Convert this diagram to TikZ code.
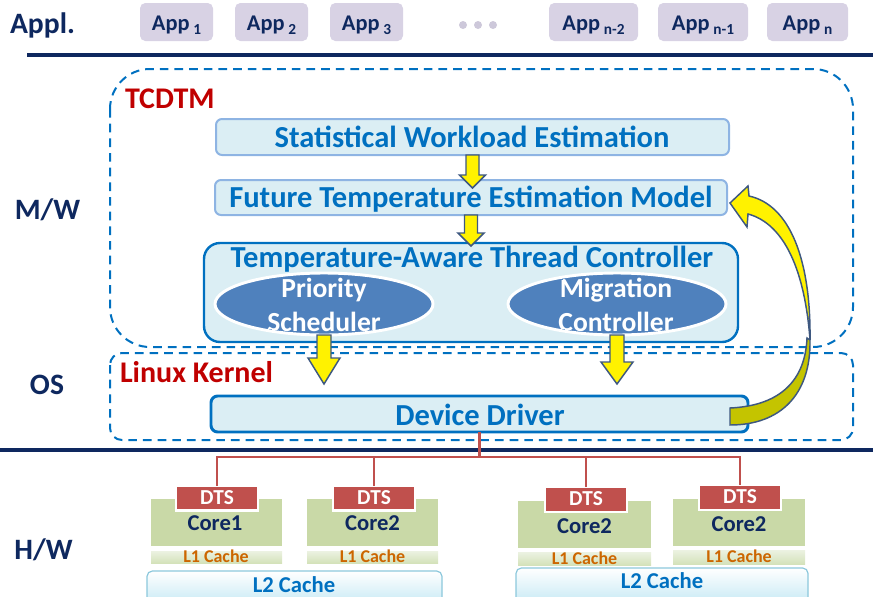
\documentclass[tikz,border=0pt]{standalone}
\usepackage{fontspec}
\setmainfont{Carlito}
\usetikzlibrary{calc,shapes.geometric}
\definecolor{navy}{RGB}{14,40,95}
\definecolor{dblue}{RGB}{0,112,192}
\definecolor{tblue}{RGB}{0,112,192}
\definecolor{lblue}{RGB}{219,238,244}
\definecolor{mblue}{RGB}{142,180,227}
\definecolor{kred}{RGB}{192,0,0}
\definecolor{ellc}{RGB}{79,129,189}
\definecolor{dtsc}{RGB}{192,80,77}
\definecolor{corec}{RGB}{201,217,167}
\definecolor{lonetop}{RGB}{236,242,226}
\definecolor{lonebot}{RGB}{212,226,186}
\definecolor{lonetext}{RGB}{204,102,0}
\definecolor{appc}{RGB}{216,210,228}
\definecolor{dotc}{RGB}{205,200,218}
\definecolor{arrb}{RGB}{62,88,128}
\definecolor{olive}{RGB}{196,196,0}
\definecolor{ltwob}{RGB}{140,200,220}
\definecolor{ltwof}{RGB}{195,232,244}
\newcommand\fsz[1]{\fontsize{#1}{#1}\selectfont}
\newcommand\subidx[1]{\,\raisebox{-0.4ex}{\fsz{11.5}#1}}
\newcommand\vblock[5]{\draw[yarrow] ($#1+(-#3,0)$) -- ($#2+(-#3,-#5)$) -- ($#2+(-#4,-#5)$) -- #2 -- ($#2+(#4,-#5)$) -- ($#2+(#3,-#5)$) -- ($#1+(#3,0)$) -- cycle;}
\begin{document}
\begin{tikzpicture}[x=0.75pt,y=-0.75pt,
  every node/.style={inner sep=0pt, outer sep=0pt},
  wh/.style 2 args={minimum width=#1*0.75pt, minimum height=#2*0.75pt},
  appbox/.style={fill=appc, rounded corners=4pt},
  apptext/.style={font=\bfseries\fsz{16.8}, text=navy, anchor=base},
  side/.style={font=\bfseries\fsz{22.2}, text=navy},
  sep/.style={draw=navy, line width=2.4pt},
  dashbox/.style={draw=dblue, line width=1.5pt, dash pattern=on 6.5pt off 4.5pt},
  redtitle/.style={font=\bfseries\fsz{22.5}, text=kred, anchor=base west},
  modbox/.style={fill=lblue, draw=mblue, line width=1.5pt, rounded corners=4.5pt},
  ctrlbox/.style={fill=lblue, draw=dblue, line width=1.8pt, rounded corners=12pt},
  ddbox/.style={fill=lblue, draw=dblue, line width=2.2pt, rounded corners=5pt},
  modtext/.style={font=\bfseries\fsz{22.9}, text=tblue, anchor=base},
  ell/.style={ellipse, fill=ellc, draw=white, line width=2.2pt},
  elltext/.style={font=\bfseries\fsz{20.7}, text=white, anchor=base},
  yarrow/.style={fill=yellow, draw=arrb, line width=1.1pt, line join=miter},
  oarrow/.style={fill=olive, draw=arrb, line width=1.1pt},
  wire/.style={draw=dtsc, line width=2pt},
  corebox/.style={fill=corec},
  coretext/.style={font=\bfseries\fsz{17}, text=navy, anchor=base},
  dtsbox/.style={fill=dtsc, draw=white, line width=1.6pt},
  dtstext/.style={font=\bfseries\fsz{16}, text=white, anchor=base},
  lonebox/.style={top color=lonetop, bottom color=lonebot},
  lonetxt/.style={font=\bfseries\fsz{13.5}, text=lonetext, anchor=base},
  ltwobox/.style={top color=white, bottom color=ltwof, draw=ltwob, line width=0.9pt, rounded corners=4pt},
  ltwotxt/.style={font=\bfseries\fsz{17}, text=tblue, anchor=base}
]
\useasboundingbox (0,0) rectangle (873,596);

% ---------- applications ----------
\node[side, anchor=base] (appl) at (42.5,33) {Appl.};
\foreach \n/\x/\w/\s in {1/176.5/73/1, 2/271.5/73/2, 3/366.5/73/3, 4/593.5/89/n-2, 5/703/90/n-1, 6/807.5/81/n}{
  \node[appbox, wh={\w}{38}] (app\n) at (\x,22) {};
  \node[apptext] (app\n t) at (\x,30) {App\subidx{\s}};
}
\foreach \x [count=\i] in {463,478,493}
  \node[circle, fill=dotc, minimum size=6pt] (dot\i) at (\x,25) {};

\draw[sep] (27,55) -- (873,55);
\draw[sep] (0,450) -- (873,450);

% ---------- side labels ----------
\node[side] (mw) at (47.5,210) {M/W};
\node[side] (os) at (47,385) {OS};
\node[side] (hw) at (43.5,550) {H/W};

% ---------- dashed layers ----------
\draw[dashbox, rounded corners=30pt] (110,69) rectangle (853,347);
\draw[dashbox, rounded corners=9pt] (110,353) rectangle (853,440);
\node[redtitle] (tcdtm) at (125,108) {TCDTM};
\node[redtitle] (lk) at (120,382) {Linux Kernel};

% ---------- middleware modules ----------
\node[modbox, wh={513}{36}] (swe) at (472.5,137) {};
\node[modtext] (swet) at (472,147) {Statistical Workload Estimation};
\node[modbox, wh={512}{35}] (fte) at (471,197.5) {};
\node[modtext] (ftet) at (471,207) {Future Temperature Estimation Model};
\node[ctrlbox, wh={534}{99}] (tatc) at (471,292.5) {};
\node[modtext] (tatct) at (472,267) {Temperature-Aware Thread Controller};

\node[ell, wh={218}{62}] (prio) at (324,304) {};
\node[ell, wh={218}{62}] (migr) at (617,304) {};
\begin{scope}
  \clip (324,304) ellipse [x radius=80pt, y radius=21.5pt];
  \node[elltext] (priot) at (324,297) {Priority};
  \node[elltext] (schedt) at (324,331) {Scheduler};
\end{scope}
\begin{scope}
  \clip (617,304) ellipse [x radius=80pt, y radius=21.5pt];
  \node[elltext] (migt) at (616,297) {Migration};
  \node[elltext] (ctrlt) at (616,331) {Controller};
\end{scope}

% ---------- kernel ----------
\node[ddbox, wh={537}{36}] (dd) at (479.5,414) {};
\node[modtext] (ddt) at (480,425) {Device Driver};

% ---------- block arrows ----------
\coordinate (t1) at ($(swe.south |- fte.north)+(0,8)$);
\vblock{(swe.south)}{(t1)}{6.5}{13}{13}
\coordinate (t2) at ($(fte.south |- tatc.north)+(0,3)$);
\vblock{(fte.south)}{(t2)}{6.5}{13}{13}
\coordinate (t3) at ($(prio.south |- dd.north)+(0,-12)$);
\vblock{(prio.south)}{(t3)}{7}{16}{26}
\coordinate (t4) at ($(migr.south |- dd.north)+(0,-12)$);
\vblock{(migr.south)}{(t4)}{7}{16}{22}

% ---------- curved feedback arrow ----------
\draw[yarrow] (730,203) -- (748,186) -- (749,196)
  .. controls (790,205) and (811,260) .. (810,340)
  .. controls (805,272) and (785,224) .. (748,214) -- (747,227) -- cycle;
\draw[oarrow] (810,340) .. controls (811,395) and (780,425) .. (730,425)
  -- (730,408) .. controls (775,406) and (805,385) .. (807,338) -- cycle;

% ---------- hardware ----------
\node[corebox, wh={131}{47}] (core1) at (216.5,522.5) {};
\node[corebox, wh={131}{47}] (core2) at (372.5,522.5) {};
\node[corebox, wh={133}{47}] (core3) at (584.5,524.5) {};
\node[corebox, wh={132}{47}] (core4) at (739,522.5) {};
\node[dtsbox, wh={82}{25}] (dts1) at (217,498) {};
\node[dtsbox, wh={82}{25}] (dts2) at (374,498) {};
\node[dtsbox, wh={82}{25}] (dts3) at (586,499.5) {};
\node[dtsbox, wh={82}{25}] (dts4) at (740,497.5) {};
\foreach \i/\y in {1/504, 2/504, 3/505, 4/503}
  \node[dtstext] (dts\i t) at (dts\i |- 0,\y) {DTS};
\node[coretext] (core1t) at (215,530) {Core1};
\node[coretext] (core2t) at (372.5,530) {Core2};
\node[coretext] (core3t) at (584.5,533) {Core2};
\node[coretext] (core4t) at (739,531) {Core2};

\node[lonebox, wh={131}{12}] (l1a) at (216.5,557) {};
\node[lonebox, wh={131}{12}] (l1b) at (372.5,557) {};
\node[lonebox, wh={133}{13}] (l1c) at (584.5,558.5) {};
\node[lonebox, wh={132}{14}] (l1d) at (739,557) {};
\node[lonetxt] (l1at) at (216,562) {L1 Cache};
\node[lonetxt] (l1bt) at (372.5,562) {L1 Cache};
\node[lonetxt] (l1ct) at (584.5,564) {L1 Cache};
\node[lonetxt] (l1dt) at (739,562) {L1 Cache};

\node[ltwobox, wh={295}{36}] (l2a) at (294.5,589) {};
\node[ltwobox, wh={292}{38}] (l2b) at (662,587) {};
\node[ltwotxt] (l2at) at (294,592) {L2 Cache};
\node[ltwotxt] (l2bt) at (662,588) {L2 Cache};

% ---------- wiring ----------
\coordinate (bus) at (217,457);
\draw[wire] (dd.south) -- (dd.south |- bus);
\draw[wire] (dts1.north) -- (bus) -| (dts4.north);
\draw[wire] (dts2.north) -- (dts2.north |- bus);
\draw[wire] (dts3.north) -- (dts3.north |- bus);
\end{tikzpicture}
\end{document}
